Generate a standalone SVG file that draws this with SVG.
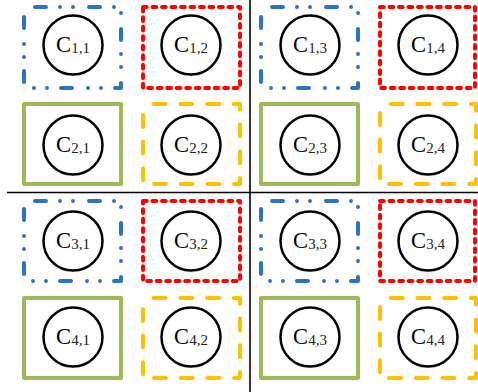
<svg xmlns="http://www.w3.org/2000/svg" width="478" height="392" viewBox="0 0 478 392">
<style>
.bx{fill:none;stroke-width:4;stroke-linecap:round;stroke-linejoin:round}
.blue{stroke:#2E72C2;stroke-dasharray:11 14 0 13 0 16;stroke-dashoffset:43}
.red{stroke:#FF0000;stroke-dasharray:3.8 5.7;stroke-dashoffset:0}
.yel{stroke:#FFC000;stroke-dasharray:12 14.7;stroke-dashoffset:16}
.grn{stroke:#9BBB59}
.cir{fill:#fff;stroke:#000;stroke-width:2.5}
.lbl{font-family:"Liberation Serif","Times New Roman",serif;font-size:22.5px;fill:#000;text-anchor:middle}
.sub{font-size:15px;fill:#222}
.div{stroke:#000;stroke-width:1.6;fill:none}
</style>
<rect width="478" height="392" fill="#fff"/>
<g id="dividers">
<line class="div" x1="250" y1="0" x2="250" y2="392"/>
<line class="div" x1="7" y1="192.5" x2="478" y2="192.5"/>
</g>
<g id="n11"><rect class="bx blue" x="24" y="7" width="97" height="81"/><circle class="cir" cx="73" cy="45" r="29.5"/><text class="lbl" x="73" y="52">C<tspan class="sub" dy="0.5">1,1</tspan></text></g>
<g id="n12"><rect class="bx red" x="143" y="7" width="97" height="81"/><circle class="cir" cx="191" cy="45" r="29.5"/><text class="lbl" x="191" y="52">C<tspan class="sub" dy="0.5">1,2</tspan></text></g>
<g id="n13"><rect class="bx blue" x="261" y="7" width="97" height="81"/><circle class="cir" cx="310" cy="45" r="29.5"/><text class="lbl" x="310" y="52">C<tspan class="sub" dy="0.5">1,3</tspan></text></g>
<g id="n14"><rect class="bx red" x="380" y="7" width="95" height="81"/><circle class="cir" cx="428" cy="45" r="29.5"/><text class="lbl" x="428" y="52">C<tspan class="sub" dy="0.5">1,4</tspan></text></g>
<g id="n21"><rect class="bx grn" x="24" y="104" width="97" height="80"/><circle class="cir" cx="73" cy="145" r="29.5"/><text class="lbl" x="73" y="152">C<tspan class="sub" dy="0.5">2,1</tspan></text></g>
<g id="n22"><rect class="bx yel" x="143" y="104" width="97" height="80"/><circle class="cir" cx="191" cy="145" r="29.5"/><text class="lbl" x="191" y="152">C<tspan class="sub" dy="0.5">2,2</tspan></text></g>
<g id="n23"><rect class="bx grn" x="261" y="104" width="97" height="80"/><circle class="cir" cx="310" cy="145" r="29.5"/><text class="lbl" x="310" y="152">C<tspan class="sub" dy="0.5">2,3</tspan></text></g>
<g id="n24"><rect class="bx yel" x="380" y="104" width="96" height="80"/><circle class="cir" cx="428" cy="145" r="29.5"/><text class="lbl" x="428" y="152">C<tspan class="sub" dy="0.5">2,4</tspan></text></g>
<g id="n31"><rect class="bx blue" x="24" y="201" width="97" height="80"/><circle class="cir" cx="73" cy="241" r="29.5"/><text class="lbl" x="73" y="248">C<tspan class="sub" dy="0.5">3,1</tspan></text></g>
<g id="n32"><rect class="bx red" x="143" y="201" width="97" height="80"/><circle class="cir" cx="191" cy="241" r="29.5"/><text class="lbl" x="191" y="248">C<tspan class="sub" dy="0.5">3,2</tspan></text></g>
<g id="n33"><rect class="bx blue" x="261" y="201" width="97" height="80"/><circle class="cir" cx="310" cy="241" r="29.5"/><text class="lbl" x="310" y="248">C<tspan class="sub" dy="0.5">3,3</tspan></text></g>
<g id="n34"><rect class="bx red" x="380" y="201" width="95" height="80"/><circle class="cir" cx="428" cy="241" r="29.5"/><text class="lbl" x="428" y="248">C<tspan class="sub" dy="0.5">3,4</tspan></text></g>
<g id="n41"><rect class="bx grn" x="24" y="298" width="97" height="80"/><circle class="cir" cx="73" cy="337" r="29.5"/><text class="lbl" x="73" y="344">C<tspan class="sub" dy="0.5">4,1</tspan></text></g>
<g id="n42"><rect class="bx yel" x="143" y="298" width="97" height="80"/><circle class="cir" cx="191" cy="337" r="29.5"/><text class="lbl" x="191" y="344">C<tspan class="sub" dy="0.5">4,2</tspan></text></g>
<g id="n43"><rect class="bx grn" x="261" y="298" width="97" height="80"/><circle class="cir" cx="310" cy="337" r="29.5"/><text class="lbl" x="310" y="344">C<tspan class="sub" dy="0.5">4,3</tspan></text></g>
<g id="n44"><rect class="bx yel" x="380" y="298" width="96" height="80"/><circle class="cir" cx="428" cy="337" r="29.5"/><text class="lbl" x="428" y="344">C<tspan class="sub" dy="0.5">4,4</tspan></text></g>
</svg>
